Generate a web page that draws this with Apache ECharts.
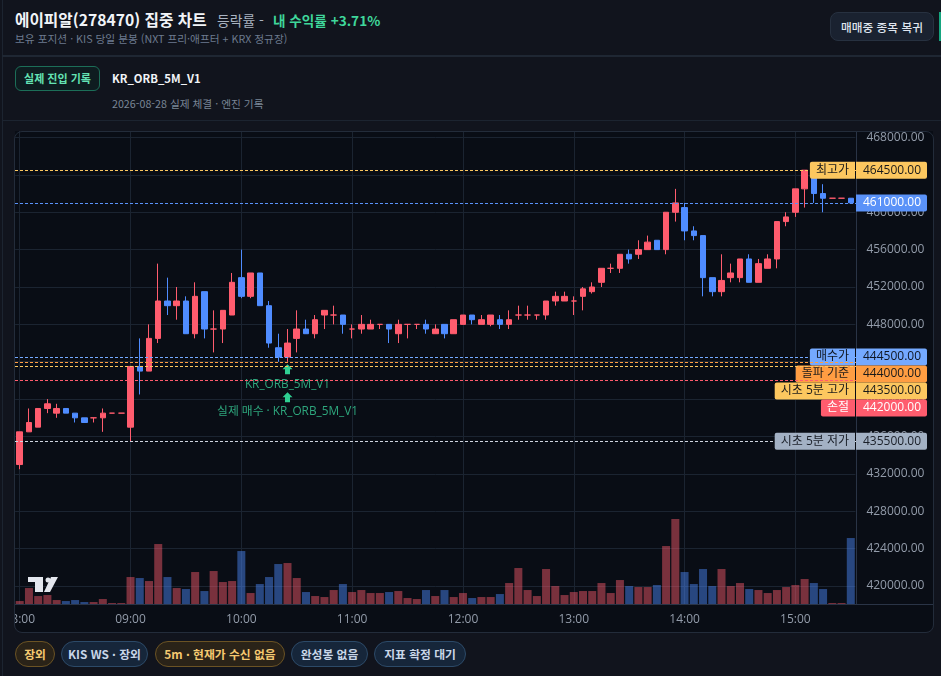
<!DOCTYPE html>
<html lang="ko">
<head>
<meta charset="utf-8">
<title>에이피알 집중 차트</title>
<script src="https://cdn.jsdelivr.net/npm/echarts@6/dist/echarts.min.js"></script>
<style>
*{box-sizing:border-box}
html,body{margin:0;padding:0;width:941px;height:676px;overflow:hidden;background:#11141d;font-family:"Noto Sans CJK KR",sans-serif}
.abs{position:absolute;white-space:nowrap}
#title{left:15px;top:8px;font-size:15.7px;font-weight:700;color:#f1f4f8}
#rate{left:217px;top:10px;font-size:13.8px;color:#aab4c2}
#pnl{left:273px;top:10px;font-size:13.6px;font-weight:700;color:#3fd79b}
#sub{left:15px;top:31px;font-size:10.7px;color:#6d7b8f}
#back{left:830px;top:12px;width:104px;height:29px;border-radius:8px;background:#1a2230;border:1px solid #273140;color:#dfe5ee;font-size:11.7px;font-weight:500;line-height:27px;text-align:center}
#teal{left:939px;top:12px;width:6px;height:29px;background:#15a57f}
#d1{left:2px;top:55px;width:939px;height:2px;background:#1f2733}
#d2{left:2px;top:120px;width:939px;height:1px;background:#1c2430}
#ledge{left:2px;top:0;width:1px;height:676px;background:#1c2430}
#badge{left:15px;top:66px;width:85px;height:25px;border-radius:6px;border:1px solid #1c6e58;background:#0e1c20;color:#64e3b4;font-size:11px;font-weight:700;text-align:center;line-height:23px}
#strat{left:112px;top:70px;font-size:11.3px;font-weight:700;color:#f1f4f8}
#date{left:112px;top:96px;font-size:10.7px;color:#7a8696}
#chart{left:15px;top:131px;width:918px;height:501px;overflow:hidden;border-radius:0 0 8px 8px}
#frame{left:14px;top:131px;width:920px;height:502px;border:1px solid #232c3a;border-radius:8px;pointer-events:none}
.pill{top:641px;height:26px;border-radius:13px;font-size:11.8px;font-weight:700;line-height:24px;text-align:center}
.y{background:#2a2318;border:1px solid #6b5324;color:#f5c970}
.b{background:#16263a;border:1px solid #2c4a68;color:#c9d6e8}
</style>
</head>
<body>
<div class="abs" id="ledge"></div>
<div class="abs" id="title">에이피알(278470) 집중 차트</div>
<div class="abs" id="rate">등락률 -</div>
<div class="abs" id="pnl">내 수익률 +3.71%</div>
<div class="abs" id="sub">보유 포지션 · KIS 당일 분봉 (NXT 프리·애프터 + KRX 정규장)</div>
<div class="abs" id="back">매매중 종목 복귀</div>
<div class="abs" id="teal"></div>
<div class="abs" id="d1"></div>
<div class="abs" id="d2"></div>
<div class="abs" id="badge">실제 진입 기록</div>
<div class="abs" id="strat">KR_ORB_5M_V1</div>
<div class="abs" id="date">2026-08-28 실제 체결 · 엔진 기록</div>
<div class="abs" id="chart"></div>
<div class="abs" id="frame"></div>
<div class="abs pill y" style="left:15px;width:40px">장외</div>
<div class="abs pill b" style="left:61px;width:87px">KIS WS · 장외</div>
<div class="abs pill y" style="left:155px;width:130px">5m · 현재가 수신 없음</div>
<div class="abs pill b" style="left:291px;width:77px">완성봉 없음</div>
<div class="abs pill b" style="left:374px;width:92px">지표 확정 대기</div>
<script>
const times = [];
for (let h = 8; h <= 15; h++) for (let m = 0; m < 60; m += 5) {
  if (h === 15 && m > 30) break;
  times.push(String(h).padStart(2,'0') + ':' + String(m).padStart(2,'0'));
}
const opens = [433000,436500,437000,439000,438500,439000,438500,438000,438000,438000,438500,438500,437000,443500,443000,446500,450500,450000,450500,447000,451500,447500,447500,449000,453000,451000,453500,450000,445500,444500,446500,447500,447000,449000,449000,449000,447500,447500,447500,448000,448000,447000,448000,448000,448000,447000,448000,447000,448000,449000,448000,448000,448500,448000,449000,449000,449000,449000,450500,450500,450500,451000,451500,452500,454000,454000,455500,455500,456000,457000,456000,460000,460500,458000,457500,453000,451500,453000,453000,455000,452500,454000,455000,459000,460000,462500,464000,462000,461500,461500,461500];
const closes = [436500,437500,439000,439500,439000,438500,438000,437500,438000,438500,438500,438500,443500,443000,446500,450500,450000,450500,447000,451000,447500,447500,449500,452500,451000,453500,450000,446000,444500,446000,447500,447000,448500,449500,449000,448000,447500,448000,448000,448000,447500,448000,448000,448000,447500,447500,447000,448500,449000,448500,448500,449000,448000,448500,449000,449000,449000,450500,451000,451000,450500,451800,452000,454000,454000,455500,455000,456000,456800,456000,460000,461000,458000,457500,453000,451500,452700,453500,455000,452500,454500,455000,459000,459500,462500,464500,462000,461500,461500,461500,461000];
const lows = [432500,436500,437000,438500,438000,438500,437500,437500,437500,436500,438500,438500,435500,440500,443000,446000,449000,448500,447000,446500,446500,445000,446000,449000,450800,450800,450000,445500,444000,444000,445000,447000,446500,447500,448000,447000,446500,447000,447500,447500,446000,446000,446500,447500,447000,447000,446500,447000,448000,448000,448000,447800,447500,447500,448500,448500,448500,448500,450000,450500,449000,449500,451300,452000,453500,453500,454500,455000,456000,456000,455500,459000,457000,457000,451000,451000,451000,452500,452500,452500,452500,454000,454000,458500,459500,460500,461000,460000,461500,461500,461000];
const highs = [436500,439000,439000,440000,439500,439000,438500,438000,438000,439000,438500,438500,443500,446500,448000,454500,453000,452000,451000,452500,451500,449500,449500,453500,456000,453500,453500,450500,447000,447500,449500,448500,449000,449500,450000,449000,448000,449000,448500,448000,448000,448500,448000,448000,448500,448000,448000,448500,449000,449000,449000,449000,449000,449500,450000,450000,449000,450500,451500,451500,451000,452000,452500,454000,454500,455500,456000,457000,457500,457000,460000,462500,461000,458500,457500,453000,455500,454500,455000,455500,455000,455500,459000,460000,462500,464500,464500,463000,461500,461500,461500];
const volumes = [1100,5000,2600,2900,1400,1100,1400,800,800,1700,500,500,8300,8000,7100,18200,8300,5000,4700,9800,4100,10100,6800,7100,16100,3500,6200,8300,12200,12500,8000,3800,2600,2300,4400,6200,3800,4400,3500,3500,3800,4100,2000,1700,4400,2600,4400,2300,3500,2000,2300,2300,3200,6500,11000,4400,2600,10700,5600,2900,3800,4100,4100,6500,3500,7400,5600,5300,5300,5900,17600,25700,9800,6200,10700,5600,10700,5600,6500,4700,4400,3500,4400,5300,5900,7700,6500,4700,500,500,20000];
const priceLevels = [
  {name:'최고가', value:464500, color:'#fcc75f', text:'#1a1a1a', line:'#fcc75f'},
  {name:'', value:461000, color:'#5a92f8', text:'#ffffff', line:'#5a92f8'},
  {name:'매수가', value:444500, color:'#74a9ff', text:'#0f1622', line:'#74a9ff'},
  {name:'돌파 기준', value:444000, color:'#ff9d42', text:'#1a1a1a', line:'#ff9d42'},
  {name:'시초 5분 고가', value:443500, color:'#fcc75f', text:'#1a1a1a', line:'#fcc75f'},
  {name:'손절', value:442000, color:'#ff5c6e', text:'#ffffff', line:'#ff5c6e'},
  {name:'시초 5분 저가', value:435500, color:'#a3b1c4', text:'#1a1f28', line:'#cfd6e0'}
];
const entryTime = '10:25';
const entryLabels = ['KR_ORB_5M_V1','실제 매수 · KR_ORB_5M_V1'];

const UP='#ff5c6e', DOWN='#4f8cff', GRIDC='#1b2431', AXISC='#2a3446', LABELC='#939caa';
const PLOT_W = 840.3, PLOT_RIGHT = 841, BASE = 473.7;
const chart = echarts.init(document.getElementById('chart'), null, {renderer:'canvas'});
const isHour = i => i % 12 === 0;
const font = '"Open Sans","Noto Sans CJK KR",sans-serif';

function tagPositions(api){
  let prev = -1e9;
  return priceLevels.map(l => {
    let y = api.coord([0,l.value])[1];
    if (y < prev + 17) y = prev + 17;
    prev = y; return y;
  });
}
chart.setOption({
  backgroundColor:'#090d15',
  animation:false,
  grid:[
    {left:0.1, width:PLOT_W, top:-30.9, height:523.3, outerBoundsMode:'none'},
    {left:0.1, width:PLOT_W, top:0, height:BASE, outerBoundsMode:'none'}
  ],
  xAxis:[
    {type:'category', gridIndex:0, data:times, axisLine:{show:false}, axisTick:{show:false}, axisLabel:{show:false}, splitLine:{show:false}},
    {type:'category', gridIndex:1, data:times, axisLine:{show:false}, axisTick:{show:false},
      axisLabel:{interval:(i)=>isHour(i), color:LABELC, fontSize:12, fontFamily:font, margin:9},
      splitLine:{show:true, alignWithLabel:true, interval:(i)=>isHour(i), lineStyle:{color:GRIDC,width:1}}}
  ],
  yAxis:[
    {type:'value', gridIndex:0, position:'right', min:416000, max:472000, interval:4000,
      axisLine:{show:false}, axisTick:{show:false},
      axisLabel:{color:LABELC, fontSize:12, fontFamily:font, margin:11, showMinLabel:false, showMaxLabel:false, formatter:v=>v.toFixed(2)},
      splitLine:{show:true, showMinLine:false, showMaxLine:false, lineStyle:{color:GRIDC,width:1}}},
    {type:'value', gridIndex:1, min:0, max:142100, show:false, splitLine:{show:false}}
  ],
  series:[
    {type:'bar', name:'volume', xAxisIndex:1, yAxisIndex:1, barWidth:8, z:1,
      data:volumes.map((v,i)=>({value:v,itemStyle:{color: closes[i]<opens[i] ? 'rgba(79,140,255,.46)' : 'rgba(255,92,110,.46)'}}))},
    {type:'candlestick', name:'price', xAxisIndex:0, yAxisIndex:0, barWidth:6, z:3,
      data:times.map((t,i)=>[opens[i],closes[i],lows[i],highs[i]]),
      itemStyle:{color:UP,color0:DOWN,borderColor:UP,borderColor0:DOWN,borderColorDoji:UP,borderWidth:1}},
    {type:'custom', name:'entry', xAxisIndex:0, yAxisIndex:0, z:6, clip:false,
      data:[[times.indexOf(entryTime), lows[times.indexOf(entryTime)]]],
      renderItem:(p,api)=>{
        const c = api.coord([api.value(0),api.value(1)]);
        const arrow = (top)=>({type:'polygon',shape:{points:[[c[0],top],[c[0]+5,top+5],[c[0]+2.5,top+5],[c[0]+2.5,top+10],[c[0]-2.5,top+10],[c[0]-2.5,top+5],[c[0]-5,top+5]]},style:{fill:'#2fcf92'}});
        const txt = (s,y)=>({type:'text',style:{text:s,x:c[0],y:y,align:'center',verticalAlign:'middle',fill:'#2ea77d',font:'11.8px '+font}});
        return {type:'group',children:[arrow(c[1]+2.5),txt(entryLabels[0],c[1]+23),arrow(c[1]+30.5),txt(entryLabels[1],c[1]+50)]};
      }},
    {type:'custom', name:'tags', xAxisIndex:0, yAxisIndex:0, z:8, clip:false,
      data:priceLevels.map((l,i)=>[i,l.value]),
      renderItem:(p,api)=>{
        const ys = tagPositions(api);
        const l = priceLevels[p.dataIndex], y = ys[p.dataIndex];
        const ly = Math.round(api.coord([0,l.value])[1]) + 0.5;
        const kids = [
          {type:'line',silent:true,shape:{x1:0,y1:ly,x2:PLOT_RIGHT,y2:ly},style:{stroke:l.line,lineWidth:1,lineDash:[3,2]}},
          {type:'rect',shape:{x:PLOT_RIGHT,y:y-8.5,width:71,height:17,r:[0,2,2,0]},style:{fill:l.color}},
          {type:'text',style:{text:l.value.toFixed(2),x:PLOT_RIGHT+65,y:y,align:'right',verticalAlign:'middle',fill:l.text,font:'12px '+font}}
        ];
        if (l.name) kids.push({type:'text',style:{text:l.name,x:PLOT_RIGHT-1,y:y,align:'right',verticalAlign:'middle',fill:l.text,font:'12px '+font,lineHeight:13,backgroundColor:l.color,padding:[2,6,2,6],borderRadius:[2,0,0,2]}});
        return {type:'group',children:kids};
      }}
  ],
  graphic:[
    {type:'rect',z:5,shape:{x:841,y:0,width:1,height:473},style:{fill:AXISC}},
    {type:'rect',z:5,shape:{x:0,y:473,width:918,height:1},style:{fill:AXISC}},
    {type:'polygon',z:7,shape:{points:[[13,446],[28,446],[28,461],[20,461],[20,451],[13,451]]},style:{fill:'#e4e7ee'}},
    {type:'circle',z:7,shape:{cx:33,cy:449,r:2.5},style:{fill:'#e4e7ee'}},
    {type:'polygon',z:7,shape:{points:[[36,446],[43,446],[35,461],[29,461]]},style:{fill:'#e4e7ee'}}
  ]
});
</script>
</body>
</html>
